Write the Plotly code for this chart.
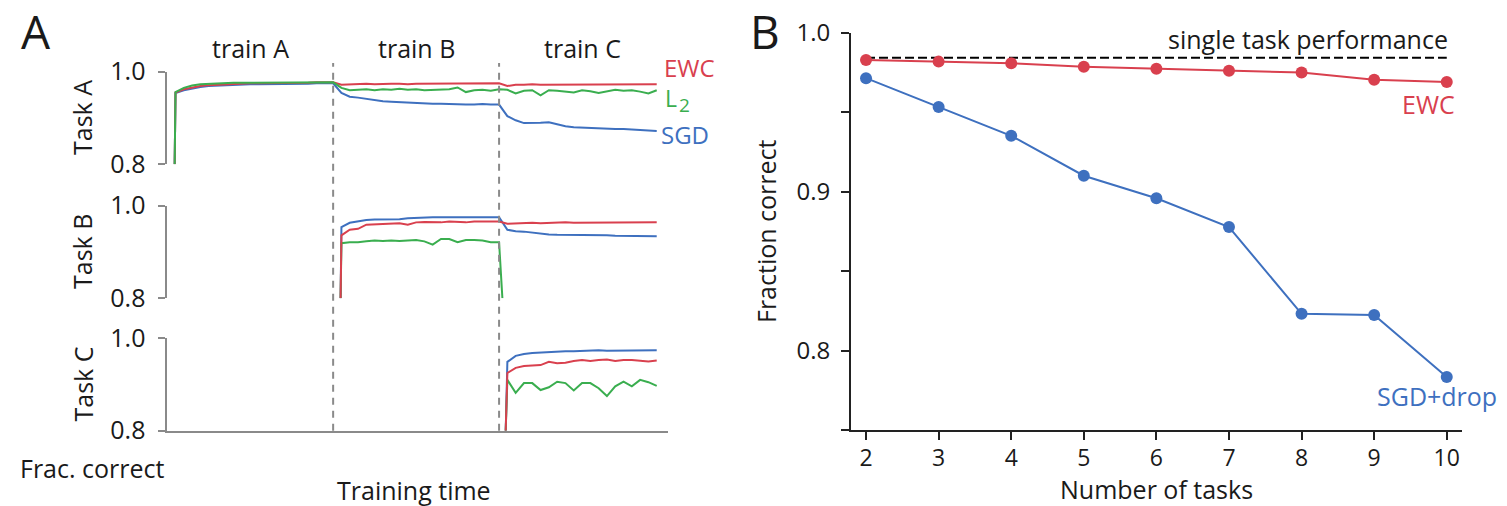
import plotly.graph_objects as go

W, H = 1507, 506
FONT = "Open Sans"
RED, GREEN, BLUE = "#d9404e", "#3aae4f", "#3e70bf"
AX_GRAY = "#8a8a8a"
TXT = "#1a1a1a"

# ---------------- Panel A data ----------------
# sample times (training time, one unit per task phase)
train_time = [round(0.05 * k, 2) for k in range(1, 60)]   # 0.05 .. 2.95
phase_start = [0.045, 1.045, 2.04]                           # untrained point of each new task
phase_bounds = [1, 2]
phase_labels = ["train A", "train B", "train C"]
phase_centers = [0.5, 1.5, 2.5]
start_value = 0.8

taskA_ewc = [0.955, 0.962, 0.966, 0.969, 0.971, 0.972, 0.973, 0.974, 0.974, 0.975,
             0.975, 0.975, 0.976, 0.976, 0.976, 0.976, 0.976, 0.977, 0.977, 0.977,
             0.972, 0.973, 0.974, 0.974, 0.973, 0.974, 0.974, 0.974, 0.973, 0.974,
             0.974, 0.974, 0.975, 0.974, 0.974, 0.975, 0.974, 0.975, 0.975, 0.975,
             0.969, 0.972, 0.972, 0.973, 0.972, 0.972, 0.973, 0.972, 0.973, 0.973,
             0.972, 0.973, 0.973, 0.973, 0.972, 0.973, 0.973, 0.973, 0.973]
taskA_l2 = [0.956, 0.965, 0.970, 0.973, 0.974, 0.975, 0.975, 0.976, 0.976, 0.976,
            0.976, 0.977, 0.977, 0.977, 0.977, 0.977, 0.977, 0.977, 0.977, 0.977,
            0.965, 0.960, 0.961, 0.962, 0.960, 0.962, 0.961, 0.963, 0.961, 0.962,
            0.960, 0.961, 0.962, 0.962, 0.966, 0.956, 0.960, 0.961, 0.959, 0.962,
            0.961, 0.953, 0.959, 0.960, 0.949, 0.960, 0.959, 0.957, 0.955, 0.960,
            0.958, 0.954, 0.958, 0.961, 0.959, 0.960, 0.957, 0.953, 0.960]
taskA_sgd = [0.954, 0.960, 0.964, 0.967, 0.969, 0.970, 0.971, 0.972, 0.972, 0.973,
             0.973, 0.973, 0.974, 0.974, 0.974, 0.974, 0.974, 0.975, 0.975, 0.975,
             0.954, 0.946, 0.944, 0.941, 0.938, 0.936, 0.935, 0.934, 0.933, 0.933,
             0.932, 0.931, 0.931, 0.930, 0.930, 0.929, 0.929, 0.930, 0.929, 0.929,
             0.904, 0.895, 0.889, 0.889, 0.890, 0.891, 0.886, 0.882, 0.880, 0.879,
             0.878, 0.877, 0.876, 0.876, 0.876, 0.875, 0.875, 0.874, 0.872]

taskB_ewc = [0.936, 0.948, 0.950, 0.959, 0.960, 0.961, 0.961, 0.962, 0.959, 0.964,
             0.965, 0.964, 0.964, 0.966, 0.965, 0.964, 0.966, 0.966, 0.966, 0.966,
             0.961, 0.962, 0.963, 0.963, 0.962, 0.963, 0.963, 0.964, 0.963, 0.963,
             0.964, 0.963, 0.964, 0.964, 0.963, 0.964, 0.964, 0.964, 0.964]
taskB_sgd = [0.954, 0.963, 0.966, 0.969, 0.970, 0.970, 0.971, 0.971, 0.973, 0.974,
             0.974, 0.975, 0.975, 0.975, 0.975, 0.975, 0.975, 0.975, 0.975, 0.975,
             0.948, 0.945, 0.944, 0.942, 0.939, 0.938, 0.937, 0.937, 0.936, 0.936,
             0.936, 0.936, 0.936, 0.935, 0.935, 0.934, 0.934, 0.934, 0.934]
taskB_l2 = [0.919, 0.921, 0.921, 0.923, 0.925, 0.924, 0.925, 0.924, 0.925, 0.926,
            0.923, 0.916, 0.928, 0.928, 0.921, 0.926, 0.926, 0.925, 0.921, 0.921]
taskB_l2_end_time, taskB_l2_end_value = 2.02, 0.80

taskC_ewc = [0.925, 0.936, 0.940, 0.941, 0.942, 0.949, 0.946, 0.947, 0.951, 0.953,
             0.951, 0.953, 0.954, 0.951, 0.953, 0.953, 0.952, 0.950, 0.952]
taskC_sgd = [0.949, 0.962, 0.966, 0.968, 0.969, 0.971, 0.971, 0.972, 0.972, 0.973,
             0.973, 0.974, 0.973, 0.973, 0.974, 0.974, 0.974, 0.974, 0.974]
taskC_l2 = [0.910, 0.882, 0.903, 0.903, 0.888, 0.894, 0.906, 0.903, 0.887, 0.903,
            0.903, 0.892, 0.875, 0.896, 0.906, 0.896, 0.910, 0.905, 0.897]

# ---------------- Panel B data ----------------
n_tasks = [2, 3, 4, 5, 6, 7, 8, 9, 10]
ewc_frac = [0.9828, 0.9818, 0.9808, 0.9786, 0.9773, 0.9761, 0.9749, 0.9704, 0.9690]
sgd_drop_frac = [0.9714, 0.9533, 0.9351, 0.9100, 0.8958, 0.8777, 0.8231, 0.8223, 0.7834]
single_task = 0.9843

fig = go.Figure()

def px_x(p):
    return p / W

def px_y(p):
    return 1 - p / H

# panel A layout geometry (pixels)
A_X0, A_X1 = 167.2, 668
A_T = [(71.7, 164.3), (205.7, 298.3), (338.3, 430.7)]
A_RANGE = [0, 3.018]

def add_series(times, vals, color, ax):
    fig.add_trace(go.Scatter(x=times, y=vals, mode="lines",
                             line=dict(color=color, width=2),
                             xaxis="x" + ax, yaxis="y" + ax,
                             showlegend=False, hoverinfo="skip", cliponaxis=True))

# Task A (axis "" -> x / y)
tA = [phase_start[0]] + train_time
add_series(tA, [start_value] + taskA_sgd, BLUE, "")
add_series(tA, [start_value] + taskA_ewc, RED, "")
add_series(tA, [start_value] + taskA_l2, GREEN, "")
# Task B
tB = [phase_start[1]] + train_time[20:]
add_series(tB, [start_value] + taskB_sgd, BLUE, "2")
add_series([phase_start[1]] + train_time[20:40] + [taskB_l2_end_time],
           [start_value] + taskB_l2 + [taskB_l2_end_value], GREEN, "2")
add_series(tB, [start_value] + taskB_ewc, RED, "2")
# Task C
tC = [phase_start[2]] + train_time[40:]
add_series(tC, [start_value] + taskC_sgd, BLUE, "3")
add_series(tC, [start_value] + taskC_l2, GREEN, "3")
add_series(tC, [start_value] + taskC_ewc, RED, "3")

# Panel B
fig.add_trace(go.Scatter(x=[n_tasks[0], n_tasks[-1]], y=[single_task, single_task], mode="lines",
                         line=dict(color="black", width=2, dash="9px,4px"),
                         xaxis="x4", yaxis="y4", showlegend=False, hoverinfo="skip"))
fig.add_trace(go.Scatter(x=n_tasks, y=sgd_drop_frac, mode="lines+markers",
                         line=dict(color=BLUE, width=2), marker=dict(color=BLUE, size=12),
                         xaxis="x4", yaxis="y4", showlegend=False, cliponaxis=False))
fig.add_trace(go.Scatter(x=n_tasks, y=ewc_frac, mode="lines+markers",
                         line=dict(color=RED, width=2), marker=dict(color=RED, size=12),
                         xaxis="x4", yaxis="y4", showlegend=False, cliponaxis=False))

layout = dict(
    width=W, height=H, autosize=False,
    margin=dict(l=0, r=0, t=0, b=0, autoexpand=False),
    paper_bgcolor="white", plot_bgcolor="white",
    font=dict(family=FONT, size=25, color=TXT),
)

names = ["", "2", "3"]
for i, nm in enumerate(names):
    top, bot = A_T[i]
    layout["xaxis" + nm] = dict(
        domain=[px_x(A_X0), px_x(A_X1)], range=A_RANGE, anchor="y" + nm,
        showgrid=False, zeroline=False, showticklabels=False, ticks="",
        showline=(nm == "3"), linecolor=AX_GRAY, linewidth=1.5, automargin=False,
    )
    layout["yaxis" + nm] = dict(
        domain=[px_y(bot), px_y(top)], range=[0.8, 1.0], anchor="x" + nm,
        showgrid=False, zeroline=False, showline=True, linecolor=AX_GRAY, linewidth=1.5,
        ticks="outside", ticklen=7, tickwidth=1.5, tickcolor=AX_GRAY,
        tickvals=[0.8, 1.0], ticktext=["0.8", "1.0"], ticklabelstandoff=8,
        tickfont=dict(size=25, color=TXT, family=FONT), automargin=False,
    )

B_X0, B_X1 = 851, 1462
B_Y0, B_Y1 = 32.7, 430
layout["xaxis4"] = dict(
    domain=[px_x(B_X0), px_x(B_X1)], range=[1.793, 10.21], anchor="y4",
    showgrid=False, zeroline=False, showline=True, linecolor="#222", linewidth=2,
    ticks="outside", ticklen=8, tickwidth=1.5, tickcolor="#222",
    tickvals=n_tasks, ticktext=[str(n) for n in n_tasks], ticklabelstandoff=-2,
    tickfont=dict(size=23, color=TXT, family=FONT), automargin=False,
)
layout["yaxis4"] = dict(
    domain=[px_y(B_Y1), px_y(B_Y0)], range=[0.75, 1.0], anchor="x4",
    showgrid=False, zeroline=False, showline=True, linecolor="#222", linewidth=2,
    ticks="outside", ticklen=8, tickwidth=1.5, tickcolor="#222",
    tickvals=[0.75, 0.8, 0.85, 0.9, 0.95, 1.0], ticktext=["", "0.8", "", "0.9", "", "1.0"],
    ticklabelstandoff=6,
    tickfont=dict(size=24, color=TXT, family=FONT), automargin=False,
)
fig.update_layout(**layout)

# dashed phase boundaries
for b in phase_bounds:
    fig.add_shape(type="line", xref="x3", yref="paper", x0=b, x1=b,
                  y0=px_y(430.7), y1=px_y(63),
                  line=dict(color=AX_GRAY, width=2, dash="7px,6px"))

def ann(text, x, y, size=25, color=TXT, xanchor="center", yanchor="middle", angle=0, xref="paper"):
    fig.add_annotation(text=text, x=x if xref != "paper" else px_x(x), y=px_y(y),
                       xref=xref, yref="paper", showarrow=False, borderpad=0,
                       font=dict(family=FONT, size=size, color=color),
                       xanchor=xanchor, yanchor=yanchor, textangle=angle)

# panel letters
ann("A", 36, 31, size=46)
ann("B", 765, 31, size=46)

# phase labels
for lab, c in zip(phase_labels, phase_centers):
    ann(lab, c, 48, xref="x3")

# series labels panel A
ann("EWC", 663, 67, color=RED, xanchor="left", size=24)
ann("L", 664, 98, color=GREEN, xanchor="left", size=23)
ann("2", 678, 105, color=GREEN, xanchor="left", size=19)
ann("SGD", 660, 134, color=BLUE, xanchor="left", size=24)

# task labels
for lab, (top, bot) in zip(["Task A", "Task B", "Task C"], A_T):
    ann(lab, 82, (top + bot) / 2 + 0, angle=-90)
ann("Frac. correct", 92, 468)
ann("Training time", 414, 490)

# panel B labels
ann("single task performance", 1449, 39, xanchor="right")
ann("EWC", 1456, 104, color=RED, xanchor="right")
ann("SGD+drop", 1498, 396, color=BLUE, xanchor="right")
ann("Fraction correct", 766, 231, angle=-90)
ann("Number of tasks", 1156, 489)

fig.write_html("out.html")
